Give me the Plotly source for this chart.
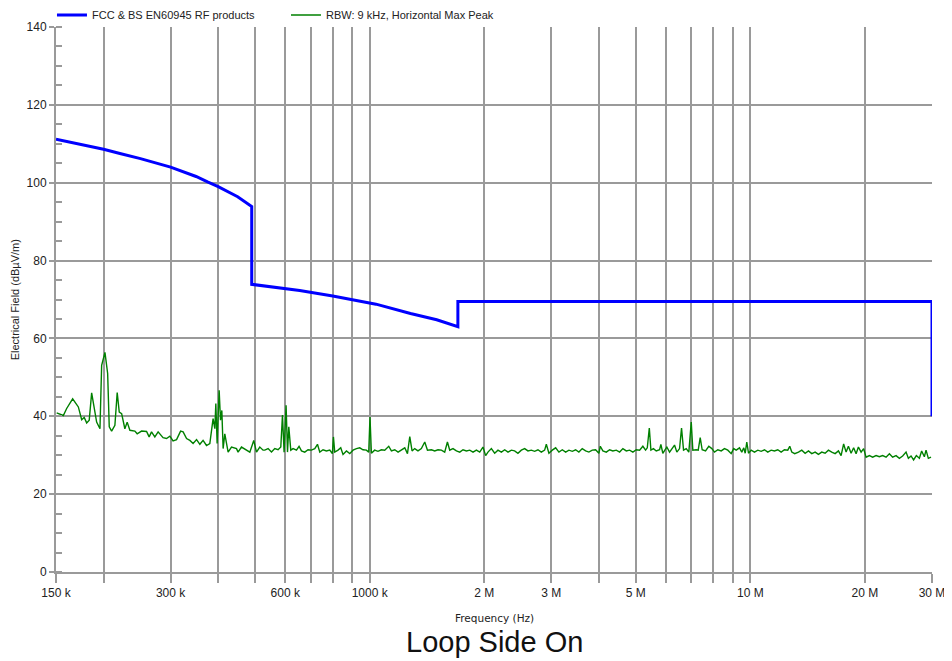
import math
import plotly.graph_objects as go

# ---- data ----
limit_freq_khz = [150, 200, 220.8, 250, 300, 350, 375, 400, 450, 490, 490, 655, 800, 1039, 1280, 1500, 1705, 1705, 30000, 30000]
limit_level = [111.2, 108.6, 107.5, 106.2, 104.0, 101.6, 100.2, 99.0, 96.4, 93.9, 73.9, 72.3, 70.9, 68.8, 66.4, 64.8, 63.0, 69.5, 69.5, 40.0]

meas_freq_khz = [
    150.6, 156.8, 160.0, 165.9, 171.7, 175.2, 177.9, 180.6, 183.4, 186.1, 191.8, 195.7, 197.7, 201.7, 205.0, 207.0,
    210.0, 214.2, 217.2, 219.9, 223.1, 227.5, 230.7, 234.5, 241.7, 245.1, 251.7, 259.4, 263.5, 267.3, 272.7, 278.2,
    286.6, 292.7, 298.7, 304.5, 311.0, 318.7, 323.6, 330.4, 337.1, 343.7, 351.0, 358.1, 365.1, 372.8, 380.3, 384.2,
    387.9, 392.0, 394.4, 397.5, 402.4, 405.7, 409.0, 412.2, 416.4, 424.8, 433.6, 446.9, 451.2, 460.6, 474.8, 484.4,
    496.1, 504.3, 514.5, 524.8,
    530.3, 541.0, 552.2, 563.4, 574.7, 584.2, 590.2, 596.0, 603.2, 608.4, 613.2, 620.6, 629.2, 642.3, 652.4, 662.0,
    675.3, 688.9, 703.2, 717.4, 729.3, 739.6, 754.3, 769.9, 785.6, 798.1, 803.2, 809.6, 825.9, 839.5, 851.2, 869.0,
    886.6, 904.2, 923.1, 941.8, 960.6, 980.5, 994.4, 1002, 1010.6, 1030.7, 1051.5, 1073.3, 1095.3, 1122.3, 1140.6,
    1163.9, 1187.4, 1212.0, 1236.5, 1256.9, 1274.6, 1292.4, 1313.0, 1339.5, 1367.2, 1395.5, 1418.6, 1453.1, 1482.0,
    1511.9, 1543.2, 1574.4, 1600.5, 1623.0, 1655.3, 1690.1, 1724.4, 1758.7, 1795.5, 1832.0, 1868.5, 1907.0, 1945.7,
    1984.5,
    2017, 2045.2, 2087.6, 2130.0, 2173.0, 2218.0, 2263.2, 2308.9, 2356.7, 2403.3, 2451.9, 2502.6, 2553.4, 2605.0,
    2658.9, 2712.5, 2767.2, 2824.5, 2881.4, 2911.2, 2957.0, 3017.9, 3080, 3141.6, 3206.3, 3272, 3337.4, 3406.2, 3475,
    3544.5, 3617.5, 3692, 3765.8, 3843.4, 3922, 4000.4, 4034.6, 4098.5, 4183.5, 4268.5, 4353.5, 4444.6, 4534.9,
    4625.2, 4721.7, 4817.7, 4913.6, 5016.0, 5117.9, 5219.8, 5306, 5361.2, 5427.0, 5479.5, 5565.5, 5659.7, 5774.6,
    5820.3, 5889.6, 5962, 6035, 6134.3, 6232.5, 6321.4, 6410.2, 6516.5, 6595.3, 6675.5, 6785.4, 6892.1, 6993.5,
    7061.1, 7207.1, 7294.7, 7383.0, 7472.0, 7625, 7777.5,
    7921.6, 8050.9, 8213.4, 8383.5, 8551.8, 8724.5, 8905.1, 9042.8, 9178.4, 9364.8, 9495.5, 9609.8, 9692.5, 9786.7,
    9888.7, 10050, 10252, 10459, 10676, 10891, 11110, 11340, 11569, 11803, 12047, 12290, 12538, 12690, 12846, 13077,
    13377, 13646, 13928, 14210, 14496, 14796, 15095, 15399, 15717, 16036, 16359, 16697, 17035, 17312, 17580, 17844,
    18096, 18391, 18675, 18955, 19223, 19537, 19839, 20136, 20545, 20954, 21390, 21825, 22260, 22723, 23185, 23646,
    24139, 24629, 25120, 25642, 26005, 26429, 26837, 27291, 27793, 28181, 28645, 28937, 29346, 29825,
]
meas_level = [
    40.9, 40.2, 42.0, 44.5, 42.4, 39.1, 39.7, 38.3, 39.0, 46.0, 38.5, 36.8, 53.1, 56.4, 51.0, 37.3,
    36.2, 37.7, 46.1, 41.1, 40.7, 36.8, 38.5, 36.4, 36.2, 35.5, 36.2, 36.1, 34.7, 36.0, 34.7, 36.0,
    34.5, 34.3, 34.9, 33.7, 34.0, 36.2, 36.0, 34.3, 33.8, 33.0, 34.0, 32.8, 33.8, 32.5, 33.0, 36.8,
    39.4, 36.8, 43.3, 33.0, 46.7, 39.0, 41.5, 31.7, 35.5, 30.8, 32.1, 31.7, 30.8, 32.1, 31.3, 30.8,
    33.8, 30.8, 32.1, 31.3,
    31.3, 31.7, 30.8, 31.7, 31.4, 32.1, 40.3, 30.8, 42.8, 30.8, 37.3, 31.3, 31.7, 31.3, 32.3, 31.1,
    30.8, 31.4, 31.3, 31.7, 32.8, 30.8, 31.4, 31.1, 31.3, 30.4, 34.7, 30.8, 31.3, 31.9, 30.2, 31.1,
    30.4, 31.3, 31.7, 31.9, 31.4, 31.3, 30.8, 39.8, 30.5, 31.3, 31.0, 31.4, 31.3, 32.3, 31.1,
    31.4, 30.8, 31.3, 31.9, 30.4, 34.8, 31.1, 31.7, 31.1, 31.7, 33.4, 31.3, 31.4, 31.1,
    31.4, 31.3, 30.8, 33.4, 31.3, 31.7, 31.1, 30.8, 31.4, 31.1, 31.3, 30.8, 31.3, 30.8,
    32.1,
    29.9, 30.8, 31.7, 30.5, 31.3, 30.8, 31.4, 30.8, 31.3, 31.1, 30.5, 31.3, 31.7, 31.1,
    31.3, 31.0, 31.4, 30.8, 31.3, 32.8, 30.5, 31.3, 31.9, 30.8, 31.4, 30.8, 31.3, 31.0, 31.4,
    30.8, 31.7, 31.1, 30.8, 31.3, 31.4, 30.5, 32.3, 31.1, 30.8, 31.4, 31.1, 31.3, 30.8,
    31.7, 31.1, 31.3, 30.8, 31.4, 31.3, 32.3, 31.3, 31.9, 37.0, 31.3, 31.7, 31.1, 31.4,
    32.8, 30.5, 31.3, 32.1, 30.8, 31.7, 32.6, 30.8, 31.7, 37.0, 31.3, 31.7, 30.8, 38.5,
    31.3, 31.4, 31.3, 34.5, 31.4, 31.1, 32.3,
    31.7, 30.8, 31.4, 31.1, 31.7, 31.3, 30.4, 31.7, 31.3, 31.9, 30.8, 31.9, 30.5, 33.4,
    30.5, 31.3, 30.8, 31.3, 31.0, 31.4, 30.8, 31.3, 31.1, 31.4, 30.8, 31.4, 31.3, 32.3, 30.8, 30.4,
    30.8, 31.3, 30.5, 31.1, 30.4, 30.8, 30.2, 30.8, 30.5, 31.3, 30.8, 30.4, 31.1, 29.9, 32.9, 30.8,
    32.3, 30.5, 31.9, 30.4, 32.1, 30.8, 31.7, 29.5, 29.9, 29.5, 29.9, 29.6, 29.9, 29.5, 30.4, 29.5,
    29.9, 29.2, 29.8, 30.8, 29.2, 29.8, 28.8, 29.9, 29.2, 31.1, 29.6, 31.3, 29.2, 29.5,
]

tick_khz = [150, 200, 300, 400, 500, 600, 700, 800, 900, 1000, 2000, 3000, 4000, 5000,
            6000, 7000, 8000, 9000, 10000, 20000, 30000]
tick_labels = ["150 k", "", "300 k", "", "", "600 k", "", "", "", "1000 k", "2 M", "3 M", "", "5 M",
               "", "", "", "", "10 M", "20 M", "30 M"]

series_names = ["FCC & BS EN60945 RF products", "RBW: 9 kHz, Horizontal Max Peak"]

GRID = "#9a9a9a"
FONT = "Liberation Sans, Arial, sans-serif"

fig = go.Figure()
fig.add_trace(go.Scatter(
    x=[f * 1000 for f in limit_freq_khz], y=limit_level, mode="lines",
    line=dict(color="#0000ff", width=3), name=series_names[0]))
fig.add_trace(go.Scatter(
    x=[f * 1000 for f in meas_freq_khz], y=meas_level, mode="lines",
    line=dict(color="#008000", width=1.4), name=series_names[1]))

fig.update_layout(
    width=944, height=653,
    margin=dict(l=48, r=20, t=19, b=89, autoexpand=False),
    paper_bgcolor="white", plot_bgcolor="white",
    font=dict(family=FONT, size=12, color="#222"),
    showlegend=True,
    legend=dict(orientation="h", x=-0.0046, xanchor="left", y=1.022, yanchor="middle",
                entrywidth=189, font=dict(size=11, color="#222"), bgcolor="rgba(0,0,0,0)"),
    xaxis=dict(
        type="log", range=[math.log10(150e3), math.log10(30e6)],
        tickvals=[f * 1000 for f in tick_khz], ticktext=tick_labels,
        showgrid=True, gridcolor=GRID, gridwidth=1.5,
        showline=True, linecolor=GRID, linewidth=2,
        ticks="outside", ticklen=9, tickcolor=GRID, tickwidth=1.5,
        tickfont=dict(size=12, color="#222"), zeroline=False, automargin=False,
    ),
    yaxis=dict(
        range=[0, 140], tick0=0, dtick=20,
        showgrid=True, gridcolor=GRID, gridwidth=1.5,
        showline=True, linecolor=GRID, linewidth=2,
        ticks="outside", ticklen=5, tickcolor=GRID, tickwidth=1.5,
        tickfont=dict(size=12, color="#222"), zeroline=False, automargin=False,
        minor=dict(ticks="inside", dtick=5, ticklen=6, tickcolor=GRID, tickwidth=1.5, showgrid=False),
    ),
    annotations=[
        dict(text="Electrical Field (dBµV/m)", xref="paper", yref="paper", x=-0.047, y=0.5,
             xanchor="center", yanchor="middle", textangle=-90, showarrow=False,
             font=dict(family=FONT, size=11, color="#222")),
        dict(text="Frequency (Hz)", xref="paper", yref="paper", x=0.5, y=-0.0844,
             xanchor="center", yanchor="middle", showarrow=False,
             font=dict(family="DejaVu Sans, sans-serif", size=10.5, color="#222")),
        dict(text="Loop Side On", xref="paper", yref="paper", x=0.5, y=-0.128,
             xanchor="center", yanchor="middle", showarrow=False,
             font=dict(family=FONT, size=29, color="#111")),
    ],
)

fig.write_html("out.html")
